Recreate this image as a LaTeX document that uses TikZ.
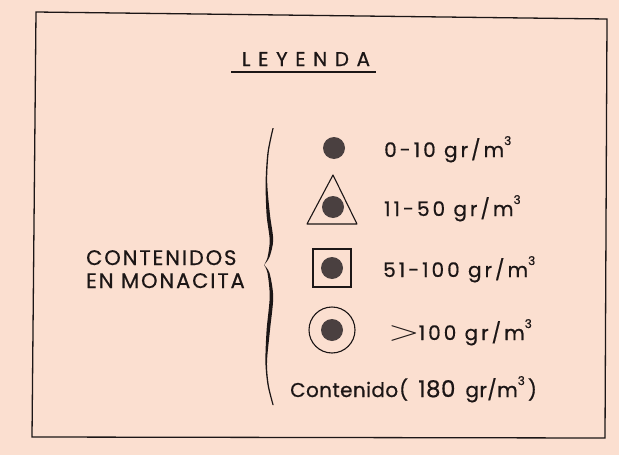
\documentclass[tikz,border=0pt]{standalone}
\usepackage{fontspec}
\setmainfont{Poppins}
\newfontfamily\titlefont[LetterSpace=38,FakeBold=0.6]{Poppins}
\newfontfamily\capsfont[LetterSpace=9,FakeBold=0.6]{Poppins}
\newfontfamily\entryfont[LetterSpace=15,FakeBold=0.6]{Poppins}
\newfontfamily\notefont[LetterSpace=2,FakeBold=0.6]{Poppins}
\definecolor{paper}{RGB}{251,223,208}
\definecolor{ink}{RGB}{28,22,22}
\definecolor{dotc}{RGB}{74,64,64}
\newcommand{\cubed}{\raisebox{0.6em}{\fontsize{12}{12}\selectfont 3}}
\tikzset{
  inkline/.style={draw=ink, line width=1.1pt},
  dotnode/.style={circle, fill=dotc, minimum size=22pt, inner sep=0pt},
  entry/.style={anchor=base west, inner sep=0pt, text=ink, font=\entryfont\fontsize{20}{20}\selectfont},
  note/.style={anchor=base west, inner sep=0pt, text=ink, font=\notefont\fontsize{20}{20}\selectfont},
  capslabel/.style={anchor=base west, inner sep=0pt, text=ink, font=\capsfont\fontsize{21}{21}\selectfont},
}
\begin{document}
\begin{tikzpicture}[x=1pt,y=-1pt]
\fill[paper] (0,0) rectangle (619,455);
\useasboundingbox (0,0) rectangle (619,455);
% frame
\draw[inkline, line width=1.3pt] (36,12) -- (607,19) -- (605,438) -- (32,437) -- cycle;
% title
\node[anchor=base, inner sep=0pt, text=ink, font=\titlefont\fontsize{20}{20}\selectfont] (title) at (306,66) {LEYENDA};
\coordinate (ulA) at (231,72);
\coordinate (ulB) at (376,72);
\draw[inkline, line width=1.4pt] (ulA) -- (ulB);
% left label
\node[capslabel] (c1) at (86,265) {CONTENIDOS};
\node[capslabel] (c2) at (86,288) {EN MONACITA};
% brace
\fill[ink] plot[smooth] coordinates {(273.7,128)(268.8,152)(267.2,182)(270,215)(273.2,240)(269.5,257)(264,265)}
  -- plot[smooth] coordinates {(264,265)(267.5,257.5)(269.7,240)(266.6,215)(265.6,182)(267.5,152)(272.5,128)} -- cycle;
\fill[ink] plot[smooth] coordinates {(264,265)(269.5,273)(273.2,297)(270,330)(267,362)(268.8,385)(273.7,405)}
  -- plot[smooth] coordinates {(272.5,405)(267.5,385)(265.4,362)(266.6,330)(269.7,297)(267.5,273)(264,265)} -- cycle;
% symbols
\node[dotnode] (d1) at (334,148) {};
\coordinate (tA) at (333,175);
\coordinate (tB) at (357,224);
\coordinate (tC) at (307,224);
\draw[inkline, line join=round] (tA) -- (tB) -- (tC) -- cycle;
\node[dotnode] (d2) at (333,207) {};
\node[draw=ink, line width=1.1pt, minimum size=38pt, inner sep=0pt] (sq) at (332,268) {};
\node[dotnode] (d3) at (332,268) {};
\node[circle, draw=ink, line width=1.1pt, minimum size=46pt, inner sep=0pt] (ring) at (332,330) {};
\node[dotnode] (d4) at (332,330) {};
% entries
\node[entry] (e1) at (384,157) {0-10 gr/m\cubed};
\node[entry] (e2) at (384,216) {11-50 gr/m\cubed};
\node[entry] (e3) at (383,277) {51-100 gr/m\cubed};
\node[entry] (e4) at (388,340) {\scalebox{2.0}[1.35]{$>$}\hspace{-1pt}100 gr/m\cubed};
\node[note] (e5) at (290,397) {Contenido\hspace{1pt}(\hspace{10pt}{\fontsize{23}{23}\selectfont 180}\hspace{10pt}gr/m\cubed\hspace{3pt})};
\end{tikzpicture}
\end{document}
